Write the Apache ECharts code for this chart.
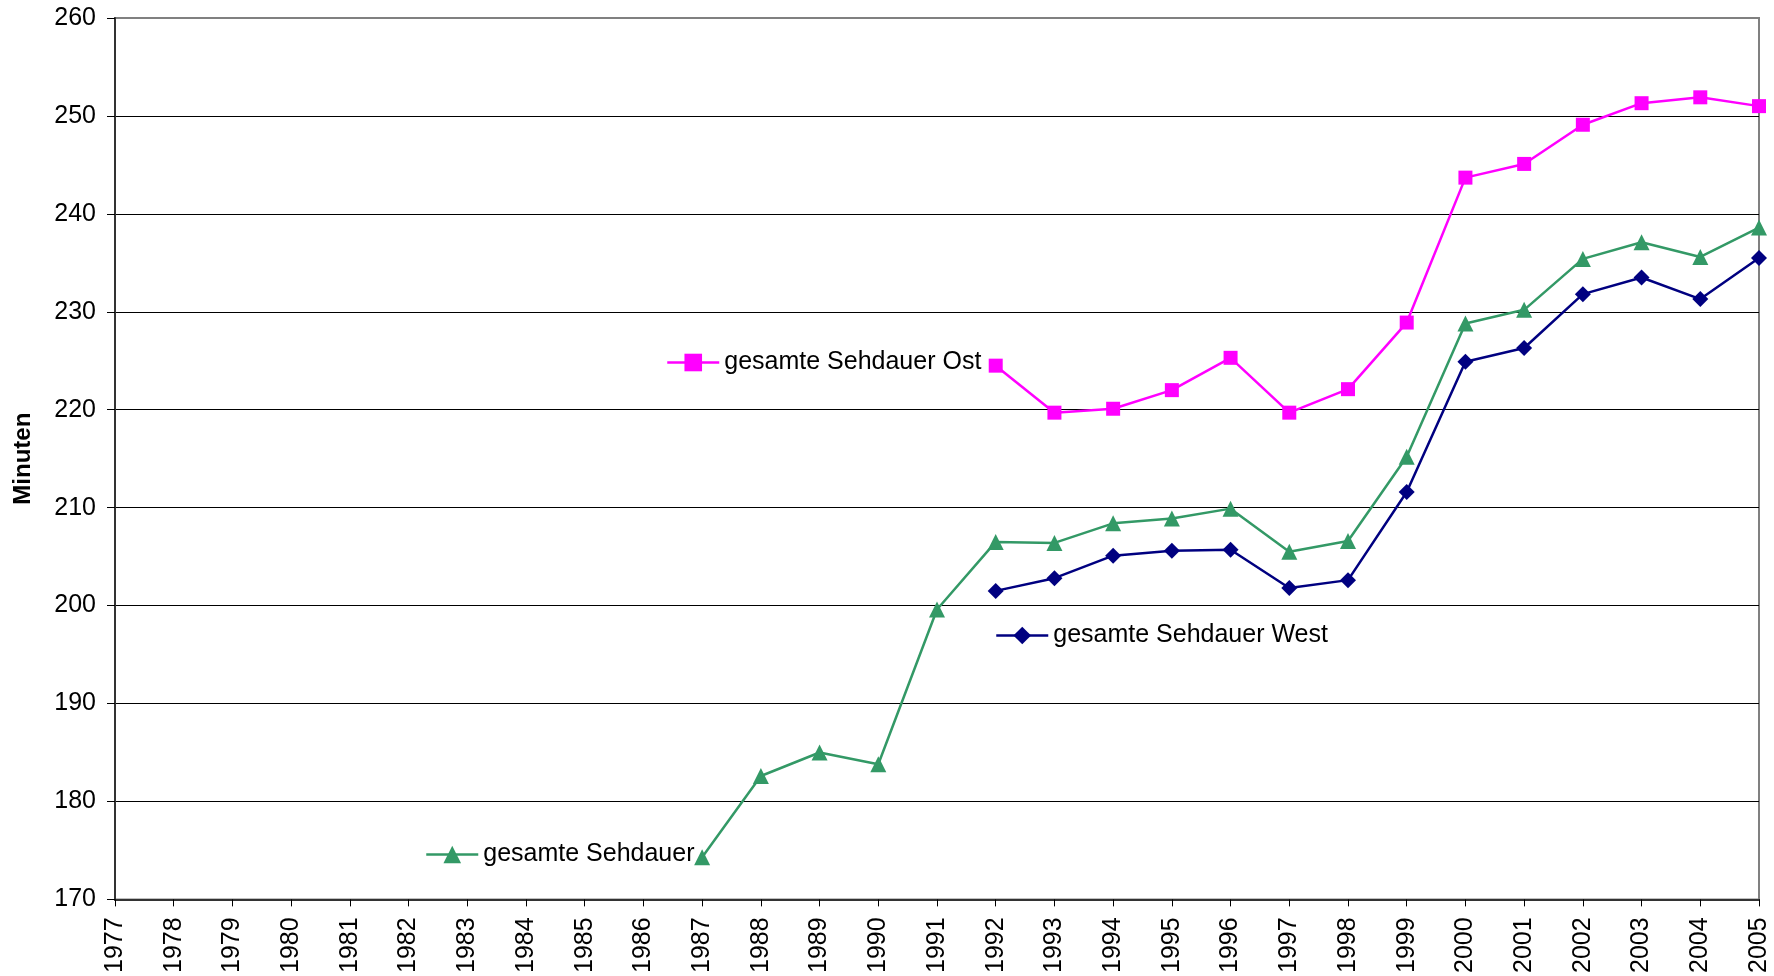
<!DOCTYPE html>
<html>
<head>
<meta charset="utf-8">
<script src="https://cdn.jsdelivr.net/npm/echarts@6/dist/echarts.min.js"></script>
<style>
  html, body { margin: 0; padding: 0; background: #ffffff; }
  #chart { width: 1774px; height: 976px; }
</style>
</head>
<body>
<div id="chart"></div>
<script>
const years = ['1977','1978','1979','1980','1981','1982','1983','1984','1985','1986','1987','1988','1989','1990','1991','1992','1993','1994','1995','1996','1997','1998','1999','2000','2001','2002','2003','2004','2005'];

const seriesGesamtName = 'gesamte Sehdauer';
const seriesWestName = 'gesamte Sehdauer West';
const seriesOstName = 'gesamte Sehdauer Ost';

// 1977..2005
const gesamt = [null,null,null,null,null,null,null,null,null,null,
  174.3,182.6,185.0,183.8,199.6,206.5,206.4,208.4,208.9,209.9,205.5,206.6,215.2,228.8,230.2,235.4,237.1,235.6,238.6];
const west = [null,null,null,null,null,null,null,null,null,null,
  null,null,null,null,null,201.5,202.8,205.1,205.6,205.7,201.8,202.6,211.6,224.9,226.3,231.8,233.5,231.3,235.5];
const ost = [null,null,null,null,null,null,null,null,null,null,
  null,null,null,null,null,224.5,219.7,220.1,222.0,225.3,219.7,222.1,228.9,243.7,245.1,249.1,251.3,251.9,251.0];

const yMin = 170, yMax = 260, yStep = 10;
const yTitle = 'Minuten';

const FONT = '"Liberation Sans", Arial, sans-serif';
const chart = echarts.init(document.getElementById('chart'), null, { renderer: 'canvas' });

function legendAt(name, left, top) {
  return {
    data: [name],
    left: left, top: top, orient: 'horizontal', padding: 0,
    itemWidth: 52, itemHeight: 22,
    lineStyle: { width: 2.5 },
    textStyle: { fontFamily: FONT, fontSize: 25, color: '#000' },
    selectedMode: false
  };
}

chart.setOption({
  animation: false,
  backgroundColor: '#ffffff',
  grid: { left: 115, right: 15, top: 18, bottom: 75, show: true, borderColor: '#808080', borderWidth: 2, containLabel: false },
  legend: [
    legendAt(seriesOstName, 666, 350),
    legendAt(seriesWestName, 995, 623),
    legendAt(seriesGesamtName, 425, 842)
  ],
  xAxis: {
    type: 'category', data: years, boundaryGap: false,
    axisLine: { lineStyle: { color: '#333', width: 2 } },
    axisTick: { show: true, length: 7, interval: 0, lineStyle: { color: '#000', width: 1 } },
    axisLabel: { interval: 0, rotate: 90, margin: 18, fontFamily: FONT, fontSize: 25, color: '#000' },
    splitLine: { show: false }
  },
  yAxis: {
    type: 'value', min: yMin, max: yMax, interval: yStep,
    name: yTitle, nameLocation: 'middle', nameRotate: 90, nameGap: 80,
    nameTextStyle: { fontFamily: FONT, fontSize: 24, fontWeight: 'bold', color: '#000' },
    axisLine: { show: true, lineStyle: { color: '#333', width: 2 } },
    axisTick: { show: true, length: 8, lineStyle: { color: '#000', width: 1 } },
    axisLabel: { margin: 19, fontFamily: FONT, fontSize: 25, color: '#000' },
    splitLine: { show: true, lineStyle: { color: ['#000','#000','#000','#000','#000','#000','#000','#000','#000','#808080'], width: 1 } }
  },
  series: [
    {
      name: seriesOstName, type: 'line', data: ost, connectNulls: false,
      symbol: 'rect', symbolSize: 14, showAllSymbol: true,
      lineStyle: { color: '#FF00FF', width: 2.5 },
      itemStyle: { color: '#FF00FF' }, clip: false, z: 3
    },
    {
      name: seriesWestName, type: 'line', data: west, connectNulls: false,
      symbol: 'diamond', symbolSize: 16, showAllSymbol: true,
      lineStyle: { color: '#000080', width: 2.5 },
      itemStyle: { color: '#000080' }, clip: false, z: 3
    },
    {
      name: seriesGesamtName, type: 'line', data: gesamt, connectNulls: false,
      symbol: 'triangle', symbolSize: 16, showAllSymbol: true,
      lineStyle: { color: '#339966', width: 2.5 },
      itemStyle: { color: '#339966' }, clip: false, z: 3
    }
  ]
});
</script>
</body>
</html>
